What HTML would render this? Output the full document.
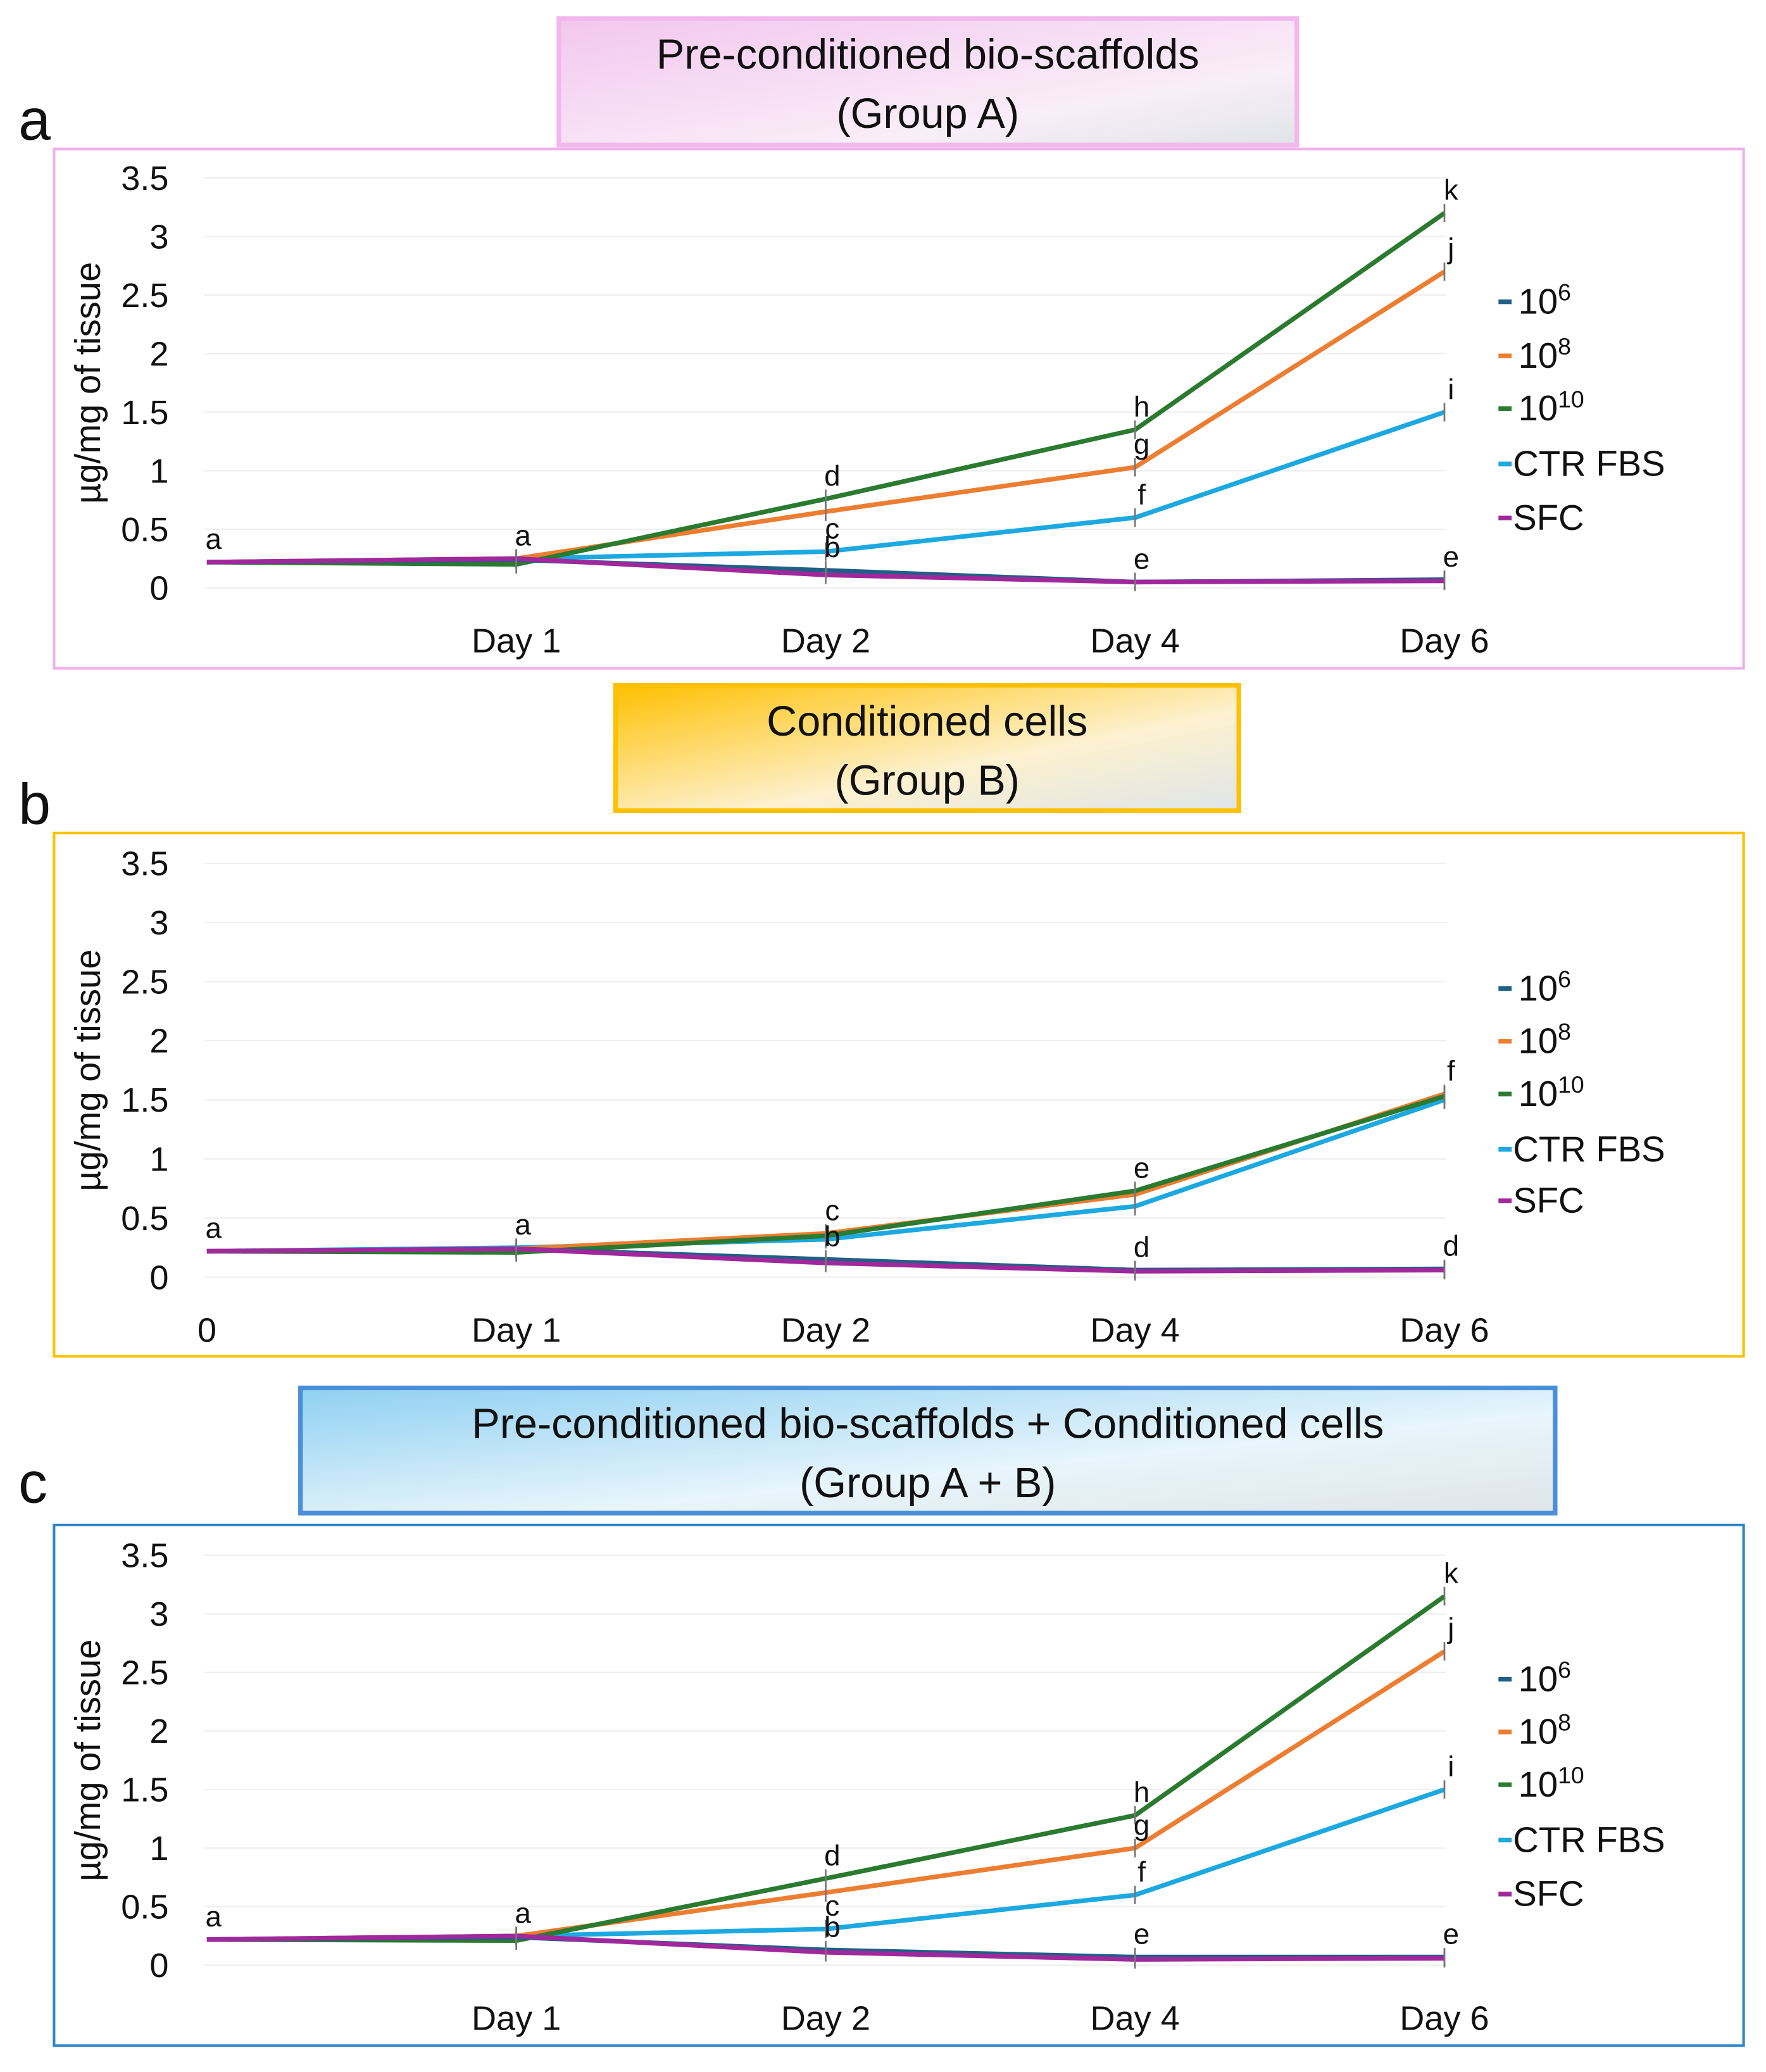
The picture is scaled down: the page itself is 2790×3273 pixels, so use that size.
<!DOCTYPE html>
<html><head><meta charset="utf-8"><style>
html,body{margin:0;padding:0;background:#fff}
svg{display:block;font-family:"Liberation Sans",sans-serif}
</style></head><body>
<svg id="fig" width="2790" height="3273" viewBox="0 0 1340 1572" preserveAspectRatio="none" xmlns="http://www.w3.org/2000/svg">
<defs>
<linearGradient id="gA" x1="0" y1="0" x2="1" y2="1"><stop offset="0" stop-color="#f3c6ef"/><stop offset="0.7" stop-color="#f9eef8"/><stop offset="1" stop-color="#dfe5e8"/></linearGradient>
<linearGradient id="gB" x1="0" y1="0" x2="1" y2="1"><stop offset="0" stop-color="#ffc000"/><stop offset="0.6" stop-color="#fdf1cf"/><stop offset="1" stop-color="#dfe5e8"/></linearGradient>
<linearGradient id="gC" x1="0" y1="0" x2="1" y2="1"><stop offset="0" stop-color="#8fd0f2"/><stop offset="0.6" stop-color="#e8f5fc"/><stop offset="1" stop-color="#dfe5e8"/></linearGradient>
</defs>
</svg>
<script>
const categories=["0","Day 1","Day 2","Day 4","Day 6"];
const yTicks=[0,0.5,1,1.5,2,2.5,3,3.5];
const seriesNames=["10^6","10^8","10^10","CTR FBS","SFC"];
const seriesColors=["#1f5f86","#ed7d31","#2a7a30","#1ca8e0","#a0289c"];
const A_1e6=[0.22,0.24,0.15,0.05,0.07];
const A_1e8=[0.22,0.25,0.65,1.03,2.7];
const A_1e10=[0.22,0.2,0.76,1.35,3.2];
const A_ctr=[0.22,0.25,0.31,0.6,1.5];
const A_sfc=[0.22,0.25,0.11,0.05,0.06];
const B_1e6=[0.22,0.24,0.15,0.06,0.07];
const B_1e8=[0.22,0.24,0.37,0.7,1.55];
const B_1e10=[0.22,0.21,0.35,0.73,1.53];
const B_ctr=[0.22,0.25,0.32,0.6,1.5];
const B_sfc=[0.22,0.24,0.12,0.05,0.06];
const C_1e6=[0.22,0.24,0.13,0.07,0.07];
const C_1e8=[0.22,0.25,0.62,1.0,2.68];
const C_1e10=[0.22,0.21,0.74,1.28,3.15];
const C_ctr=[0.22,0.25,0.31,0.6,1.5];
const C_sfc=[0.22,0.25,0.11,0.05,0.06];
const A_letters=[["a",0,0.22],["a",1,0.25],["d",2,0.76],["c",2,0.31],["b",2,0.15],["h",3,1.35],["g",3,1.03],["f",3,0.6],["e",3,0.05],["k",4,3.2],["j",4,2.7],["i",4,1.5],["e",4,0.07]];
const B_letters=[["a",0,0.22],["a",1,0.25],["c",2,0.37],["b",2,0.15],["e",3,0.73],["d",3,0.06],["f",4,1.55],["d",4,0.07]];
const C_letters=[["a",0,0.22],["a",1,0.25],["d",2,0.74],["c",2,0.31],["b",2,0.13],["h",3,1.28],["g",3,1.0],["f",3,0.6],["e",3,0.07],["k",4,3.15],["j",4,2.68],["i",4,1.5],["e",4,0.07]];

const NS="http://www.w3.org/2000/svg";
const svg=document.getElementById('fig');
function mk(tag,attrs,parent){const e=document.createElementNS(NS,tag);for(const k in attrs)e.setAttribute(k,attrs[k]);(parent||svg).appendChild(e);return e;}

function panel(cfg){
  const g=mk('g',{});
  
  
  const tb=mk('rect',{x:cfg.tb[0],y:cfg.tb[1],width:cfg.tb[2],height:cfg.tb[3],fill:cfg.grad,stroke:cfg.tbStroke,'stroke-width':3.5},g);
  
  
  const cx=cfg.tb[0]+cfg.tb[2]/2;
  cfg.title.forEach((t,i)=>{const e=mk('text',{x:cx,y:cfg.tb[1]+38+i*45,'font-size':32,'text-anchor':'middle',fill:'#111'},g);e.textContent=t;
    
    });
  const pl=mk('text',{x:14,y:cfg.labelY,'font-size':44,fill:'#111'},g);pl.textContent=cfg.id;
  
  
  const fr=mk('rect',{x:41,y:cfg.frame[0],width:1282,height:cfg.frame[1]-cfg.frame[0],fill:'none',stroke:cfg.frameStroke,'stroke-width':2},g);
  
  
  const y0=cfg.y0,y35=cfg.y35;
  const yS=v=>y0+(y35-y0)*v/3.5;
  const xS=i=>157+i*234.75;
  yTicks.forEach(t=>{
    const gl=mk('line',{x1:155,x2:1097,y1:yS(t),y2:yS(t),stroke:'#eeeeee','stroke-width':1},g);
    
    
    const tl=mk('text',{x:128,y:yS(t)+9,'font-size':26,'text-anchor':'end',fill:'#111'},g);tl.textContent=String(t);
    
    
  });
  const yt=mk('text',{x:0,y:0,'font-size':27,'text-anchor':'middle',fill:'#111',transform:`translate(76,${(y0+y35)/2}) rotate(-90)`},g);
  yt.textContent='µg/mg of tissue';
  
  
  categories.forEach((c,i)=>{
    if(i===0&&!cfg.showZero)return;
    const e=mk('text',{x:xS(i),y:cfg.xLabY,'font-size':26,'text-anchor':'middle',fill:'#111'},g);e.textContent=c;
    
    
  });
  const order=[3,1,2,0,4];
  order.forEach(si=>{
    const d=cfg.data[si];
    const pts=d.map((v,i)=>xS(i).toFixed(1)+','+yS(v).toFixed(1)).join(' ');
    const pl2=mk('polyline',{points:pts,fill:'none',stroke:seriesColors[si],'stroke-width':3.5,'stroke-linejoin':'round'},g);
    
    
    d.forEach((v,i)=>{if(i===0)return;
      const eb=mk('line',{x1:xS(i),x2:xS(i),y1:yS(v)-7,y2:yS(v)+7,stroke:'#777','stroke-width':1.3},g);
      
      });
  });
  cfg.letters.forEach(l=>{
    const e=mk('text',{x:xS(l[1])+5,y:yS(l[2])-10,'font-size':22,'text-anchor':'middle',fill:'#111'},g);e.textContent=l[0];
    
    
  });
  const legLabels=[['10','6'],['10','8'],['10','10'],['CTR FBS',''],['SFC','']];
  cfg.legY.forEach((ly,i)=>{
    const lg=mk('g',{},g);
    
    
    mk('line',{x1:1137,x2:1147,y1:ly,y2:ly,stroke:seriesColors[i],'stroke-width':3.5},lg);
    const t=mk('text',{x:i>=3?1148:1152,y:ly+9,'font-size':27,fill:'#111'},lg);
    t.textContent=legLabels[i][0];
    if(legLabels[i][1]){const s=mk('tspan',{dy:-10,'font-size':18},t);s.textContent=legLabels[i][1];}
  });
}
panel({id:'a',tb:[424,14,560,96],grad:'url(#gA)',tbStroke:'#f2b8ec',title:['Pre-conditioned bio-scaffolds','(Group A)'],labelY:106,frame:[113,507],frameStroke:'#f0b0e8',y0:446,y35:135,xLabY:495,showZero:false,legY:[229,270,310,352,393],data:[A_1e6,A_1e8,A_1e10,A_ctr,A_sfc],letters:A_letters});
panel({id:'b',tb:[467,520,473,95],grad:'url(#gB)',tbStroke:'#ffc000',title:['Conditioned cells','(Group B)'],labelY:625,frame:[632,1029],frameStroke:'#ffc000',y0:969,y35:655,xLabY:1018,showZero:true,legY:[750,790,830,872,911],data:[B_1e6,B_1e8,B_1e10,B_ctr,B_sfc],letters:B_letters});
panel({id:'c',tb:[228,1053,952,95],grad:'url(#gC)',tbStroke:'#4a8fd8',title:['Pre-conditioned bio-scaffolds + Conditioned cells','(Group A + B)'],labelY:1140,frame:[1157,1552],frameStroke:'#2f86c8',y0:1491,y35:1180,xLabY:1540,showZero:false,legY:[1274,1314,1354,1396,1437],data:[C_1e6,C_1e8,C_1e10,C_ctr,C_sfc],letters:C_letters});
</script>
</body></html>
